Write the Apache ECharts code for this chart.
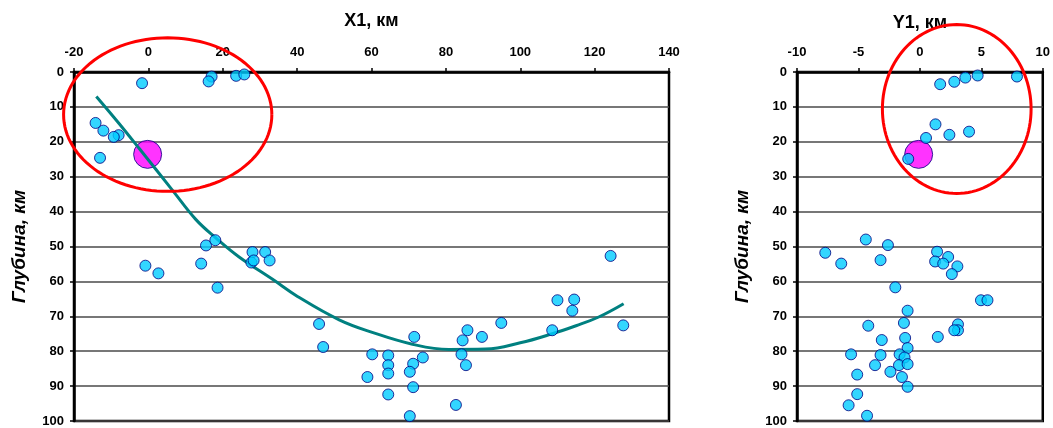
<!DOCTYPE html>
<html><head><meta charset="utf-8">
<script src="https://cdn.jsdelivr.net/npm/echarts@6/dist/echarts.min.js"></script>
<style>html,body{margin:0;padding:0;background:#fff}#c{width:1053px;height:428px}</style>
</head><body><div id="c"></div>
<script>
// Left panel: X1 vs depth
const leftPoints = [
  [-1.7,3.2],[17.0,1.3],[16.2,2.7],[23.6,1.1],[25.8,0.7],
  [-14.2,14.6],[-12.1,16.8],[-8.0,18.1],[-9.3,18.6],[-13.0,24.6],
  [-0.8,55.5],[2.7,57.7],[14.2,54.9],[15.5,49.7],[18.0,48.2],[18.6,61.8],
  [28.0,51.6],[27.7,54.6],[28.3,54.0],[31.4,51.6],[32.6,54.0],[45.9,72.2],[47.0,78.8],
  [124.3,52.7],[110.0,65.4],[114.5,65.2],[114.0,68.4],[108.6,74.0],[127.7,72.6],
  [94.9,71.9],[89.7,75.9],[85.8,74.0],[84.5,76.9],[84.2,80.9],[85.4,84.0],[82.7,95.4],
  [71.5,75.9],[73.8,81.8],[71.2,83.6],[70.3,85.9],[71.2,90.3],[70.3,98.6],
  [64.5,81.2],[64.5,84.0],[64.5,86.4],[64.5,92.4],[60.2,80.9],[58.9,87.4]
];
const leftMain = [[-0.2,23.6]];
const trendLine = [
  [-14,7.0],[-8,14.6],[-2.4,22.0],[6.5,33.9],[12.8,42.3],[18.2,47.6],[24.4,53.0],
  [33.4,59.4],[40.1,64.3],[51.3,71.0],[60.2,74.6],[71,78.0],[80.8,79.5],[90.7,79.4],
  [100,77.6],[108.6,75.0],[115,72.7],[121.1,70.2],[127.8,66.4]
];
const leftEllipse = {cx:5.2, cy:12.2, rx:28.0, ry:22.0};

// Right panel: Y1 vs depth
const rightPoints = [
  [1.65,3.5],[2.8,2.8],[3.7,1.6],[4.7,1.0],[7.9,1.3],
  [1.27,15.0],[0.5,18.9],[2.4,18.0],[4.0,17.1],[-0.95,24.9],
  [-7.7,51.8],[-6.4,54.9],[-4.4,48.0],[-2.6,49.6],[-3.2,53.9],[-2.0,61.7],
  [1.4,51.5],[2.3,53.0],[1.24,54.3],[1.9,54.9],[3.05,55.7],[2.6,57.9],
  [4.97,65.4],[5.5,65.4],[-1.0,68.4],[-1.3,71.9],[-4.2,72.7],[-3.1,76.8],
  [-1.2,76.2],[-1.0,79.1],[1.46,75.9],[3.1,72.3],[3.1,74.0],[2.8,74.0],
  [-5.6,80.9],[-3.2,81.1],[-1.65,80.9],[-1.25,81.8],[-3.65,84.0],[-1.7,84.0],
  [-1.0,83.7],[-2.4,85.9],[-1.46,87.4],[-5.1,86.7],[-1.0,90.2],[-5.1,92.3],
  [-5.8,95.5],[-4.3,98.5]
];
const rightMain = [[-0.1,23.6]];
const rightEllipse = {cx:3.0, cy:10.6, rx:6.05, ry:24.2};

const xTicksLeft = {min:-20, max:140, interval:20};
const xTicksRight = {min:-10, max:10, interval:5};
const depthTicks = {min:0, max:100, interval:10};

const FONT = 'Liberation Sans, Arial, sans-serif';
const chart = echarts.init(document.getElementById('c'));

function xAxisDef(gi, t, name, gap){
  return {gridIndex:gi, type:'value', position:'top', min:t.min, max:t.max, interval:t.interval,
    name:name, nameLocation:'middle', nameGap:gap,
    nameTextStyle:{fontFamily:FONT, fontWeight:'bold', fontSize:18, color:'#000'},
    axisLine:{show:true, onZero:false, lineStyle:{color:'#000', width:2.5}},
    axisTick:{show:true, inside:false, length:4, lineStyle:{color:'#000', width:1.5}},
    axisLabel:{fontFamily:FONT, fontWeight:'bold', fontSize:13, color:'#000', margin:13},
    splitLine:{show:false}};
}
function yAxisDef(gi){
  return {gridIndex:gi, type:'value', inverse:true, min:depthTicks.min, max:depthTicks.max, interval:depthTicks.interval,
    name:'Глубина, км', nameLocation:'middle', nameGap:45, nameRotate:90,
    nameTextStyle:{fontFamily:FONT, fontWeight:'bold', fontStyle:'italic', fontSize:19, color:'#000'},
    axisLine:{show:true, onZero:false, lineStyle:{color:'#000', width:2.5}},
    axisTick:{show:true, inside:false, length:4, lineStyle:{color:'#000', width:1.5}},
    axisLabel:{fontFamily:FONT, fontWeight:'bold', fontSize:13, color:'#000', margin:10},
    splitLine:{show:true, lineStyle:{color:'#4a4a4a', width:1.5}}};
}
function ellipseSeries(xi, e){
  return {type:'custom', xAxisIndex:xi, yAxisIndex:xi, data:[[e.cx,e.cy]], z:5, silent:true,
    renderItem:function(params, api){
      const c = api.coord([e.cx, e.cy]);
      const px = api.coord([e.cx+e.rx, e.cy]);
      const py = api.coord([e.cx, e.cy+e.ry]);
      const rx = Math.abs(px[0]-c[0]), ry = Math.abs(py[1]-c[1]);
      const pts = [];
      for(let i=0;i<=120;i++){const a=i/120*2*Math.PI; pts.push([c[0]+rx*Math.cos(a), c[1]+ry*Math.sin(a)]);}
      return {type:'polyline', shape:{points:pts}, style:{stroke:'#ff0000', lineWidth:3, fill:null}};
    }};
}
const blueStyle = {color:'#00ccff', borderColor:'#000080', borderWidth:1};
const magStyle = {color:'#ff00ff', borderColor:'#000080', borderWidth:1};

chart.setOption({
  animation:false,
  backgroundColor:'#fff',
  grid:[
    {left:74, top:72, width:595, height:349, show:true, borderColor:'#000', borderWidth:2.5, backgroundColor:'transparent'},
    {left:797, top:72, width:246, height:349, show:true, borderColor:'#000', borderWidth:2.5, backgroundColor:'transparent'}
  ],
  xAxis:[xAxisDef(0, xTicksLeft, 'X1, км', 42), xAxisDef(1, xTicksRight, 'Y1, км', 40)],
  yAxis:[yAxisDef(0), yAxisDef(1)],
  series:[
    {type:'scatter', xAxisIndex:0, yAxisIndex:0, data:leftMain, symbolSize:28, itemStyle:magStyle, z:2},
    {type:'line', xAxisIndex:0, yAxisIndex:0, data:trendLine, smooth:0.4, showSymbol:false, symbol:'none',
      lineStyle:{color:'#008080', width:3}, z:3},
    {type:'scatter', xAxisIndex:0, yAxisIndex:0, data:leftPoints, symbolSize:11, itemStyle:blueStyle, z:4},
    ellipseSeries(0, leftEllipse),
    {type:'scatter', xAxisIndex:1, yAxisIndex:1, data:rightMain, symbolSize:28, itemStyle:magStyle, z:2},
    {type:'scatter', xAxisIndex:1, yAxisIndex:1, data:rightPoints, symbolSize:11, itemStyle:blueStyle, z:4},
    ellipseSeries(1, rightEllipse)
  ]
});
</script></body></html>
